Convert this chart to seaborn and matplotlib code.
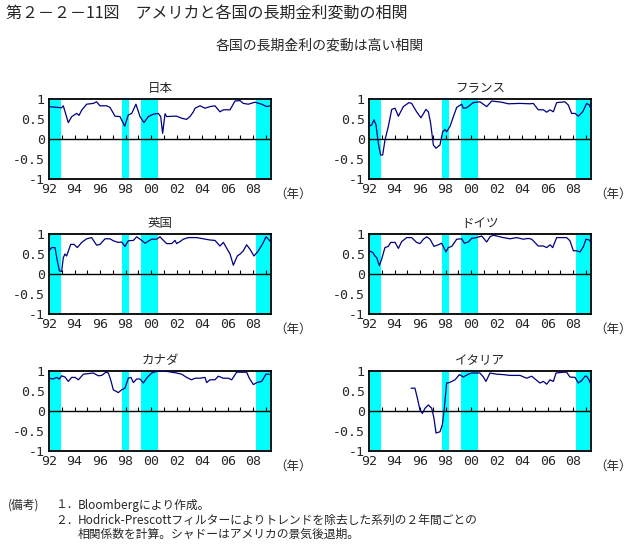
import numpy as np
import pandas as pd
import seaborn as sns
import matplotlib.pyplot as plt

# correlation with US long-term rates (year, value)
jp_t = [1992.0, 1992.99, 1993.12, 1993.51, 1993.78, 1994.17, 1994.35, 1994.56, 1994.95, 1995.47,
        1995.73, 1995.99, 1996.52, 1996.78, 1997.17, 1997.56, 1997.93, 1998.21, 1998.48, 1998.81,
        1999.13, 1999.44, 1999.78, 2000.17, 2000.56, 2000.75, 2000.90, 2001.09, 2001.22, 2001.74,
        2002.0, 2002.39, 2002.78, 2003.04, 2003.31, 2003.44, 2003.83, 2004.22, 2004.61, 2005.0,
        2005.39, 2005.66, 2006.18, 2006.57, 2006.96, 2007.22, 2007.61, 2008.14, 2008.66, 2009.05,
        2009.31]
jp_v = [0.81, 0.78, 0.83, 0.41, 0.56, 0.64, 0.59, 0.72, 0.87, 0.89,
        0.93, 0.83, 0.83, 0.79, 0.57, 0.56, 0.32, 0.60, 0.64, 0.87,
        0.56, 0.41, 0.56, 0.62, 0.64, 0.56, 0.14, 0.63, 0.56, 0.57,
        0.57, 0.52, 0.49, 0.56, 0.68, 0.77, 0.83, 0.77, 0.81, 0.83,
        0.68, 0.73, 0.73, 0.95, 0.96, 0.89, 0.87, 0.92, 0.87, 0.81,
        0.83]

fr_t = [1992.0, 1992.21, 1992.39, 1992.55, 1992.73, 1992.91, 1993.07, 1993.25, 1993.51, 1993.78,
        1994.04, 1994.30, 1994.69, 1995.13, 1995.34, 1995.73, 1996.07, 1996.46, 1996.65, 1996.83,
        1997.04, 1997.25, 1997.56, 1997.77, 1997.95, 1998.08, 1998.34, 1998.61, 1998.87, 1999.26,
        1999.39, 1999.65, 2000.17, 2000.69, 2001.22, 2001.61, 2002.39, 2002.91, 2003.83, 2004.61,
        2004.87, 2005.26, 2005.66, 2005.92, 2006.18, 2006.44, 2006.70, 2007.35, 2007.61, 2007.87,
        2008.14, 2008.40, 2008.74, 2009.05, 2009.26, 2009.39]
fr_v = [0.32, 0.35, 0.48, 0.35, -0.11, -0.40, -0.40, -0.03, 0.31, 0.74,
        0.77, 0.57, 0.81, 0.91, 0.89, 0.68, 0.53, 0.74, 0.68, 0.39,
        -0.15, -0.23, -0.15, 0.18, 0.24, 0.18, 0.31, 0.56, 0.79, 0.87,
        0.77, 0.78, 0.91, 0.93, 0.81, 0.95, 0.92, 0.88, 0.89, 0.88,
        0.89, 0.73, 0.73, 0.67, 0.73, 0.68, 0.91, 0.93, 0.85, 0.64,
        0.64, 0.57, 0.68, 0.89, 0.85, 0.75]

uk_t = [1992.0, 1992.21, 1992.47, 1992.65, 1992.81, 1992.99, 1993.12, 1993.25, 1993.38, 1993.70,
        1993.96, 1994.22, 1994.56, 1994.95, 1995.34, 1995.73, 1995.99, 1996.39, 1996.78, 1997.04,
        1997.43, 1997.69, 1997.95, 1998.21, 1998.61, 1998.87, 1999.26, 1999.52, 2000.04, 2000.43,
        2000.69, 2000.96, 2001.22, 2001.61, 2001.87, 2002.0, 2002.26, 2002.52, 2002.91, 2003.57,
        2004.09, 2004.61, 2005.0, 2005.39, 2005.66, 2006.18, 2006.44, 2006.75, 2007.01, 2007.22,
        2007.48, 2007.74, 2008.06, 2008.40, 2008.74, 2009.00, 2009.36]
uk_v = [0.58, 0.66, 0.66, 0.33, 0.08, 0.06, 0.41, 0.50, 0.45, 0.74,
        0.74, 0.66, 0.79, 0.88, 0.91, 0.72, 0.74, 0.88, 0.88, 0.83,
        0.79, 0.80, 0.69, 0.83, 0.84, 0.93, 0.84, 0.77, 0.87, 0.87,
        0.93, 0.84, 0.76, 0.76, 0.84, 0.76, 0.81, 0.87, 0.91, 0.91,
        0.88, 0.85, 0.84, 0.70, 0.79, 0.50, 0.22, 0.45, 0.51, 0.58,
        0.73, 0.62, 0.45, 0.58, 0.76, 0.93, 0.81]

de_t = [1992.0, 1992.29, 1992.47, 1992.60, 1992.81, 1992.99, 1993.25, 1993.51, 1993.70, 1994.04,
        1994.30, 1994.56, 1994.95, 1995.34, 1995.73, 1995.99, 1996.26, 1996.52, 1996.78, 1997.09,
        1997.43, 1997.69, 1998.03, 1998.21, 1998.48, 1998.87, 1999.26, 1999.47, 1999.78, 2000.04,
        2000.43, 2000.83, 2001.22, 2001.48, 2001.74, 2002.52, 2003.04, 2003.57, 2004.09, 2004.48,
        2004.74, 2005.26, 2005.66, 2005.92, 2006.18, 2006.39, 2006.70, 2007.48, 2007.74, 2008.01,
        2008.27, 2008.53, 2008.79, 2009.0, 2009.26, 2009.39]
de_v = [0.58, 0.54, 0.45, 0.41, 0.21, 0.37, 0.66, 0.69, 0.79, 0.79,
        0.64, 0.81, 0.91, 0.91, 0.79, 0.76, 0.87, 0.93, 0.87, 0.69,
        0.73, 0.77, 0.55, 0.66, 0.69, 0.87, 0.88, 0.77, 0.80, 0.89,
        0.91, 0.95, 0.80, 0.93, 0.97, 0.91, 0.88, 0.91, 0.87, 0.89,
        0.87, 0.70, 0.70, 0.66, 0.73, 0.66, 0.91, 0.91, 0.83, 0.58,
        0.58, 0.55, 0.68, 0.87, 0.85, 0.79]

ca_t = [1992.0, 1992.34, 1992.60, 1992.81, 1992.99, 1993.25, 1993.51, 1993.78, 1994.04, 1994.30,
        1994.69, 1995.47, 1995.86, 1996.13, 1996.46, 1996.65, 1996.83, 1997.04, 1997.43, 1997.69,
        1997.95, 1998.21, 1998.42, 1998.61, 1998.87, 1999.13, 1999.39, 1999.65, 2000.04, 2000.43,
        2001.22, 2002.0, 2002.39, 2002.78, 2003.17, 2003.44, 2003.83, 2004.22, 2004.35, 2004.61,
        2005.0, 2005.26, 2005.66, 2006.05, 2006.31, 2006.70, 2007.48, 2007.69, 2008.01, 2008.27,
        2008.66, 2009.0, 2009.26]
ca_v = [0.82, 0.80, 0.84, 0.80, 0.88, 0.85, 0.74, 0.84, 0.84, 0.78,
        0.92, 0.95, 0.88, 0.89, 0.97, 0.95, 0.78, 0.53, 0.46, 0.53,
        0.57, 0.82, 0.84, 0.71, 0.80, 0.80, 0.70, 0.82, 0.95, 0.99,
        0.99, 0.95, 0.92, 0.84, 0.78, 0.82, 0.82, 0.84, 0.71, 0.78,
        0.78, 0.87, 0.82, 0.82, 0.78, 0.97, 0.97, 0.82, 0.66, 0.71,
        0.74, 0.92, 0.92]

it_t = [1995.29, 1995.60, 1995.79, 1995.99, 1996.18, 1996.39, 1996.65, 1996.91, 1997.09, 1997.25,
        1997.56, 1997.74, 1997.90, 1998.08, 1998.29, 1998.48, 1998.74, 1999.08, 1999.39, 1999.78,
        2000.04, 2000.69, 2000.96, 2001.16, 2001.48, 2002.0, 2002.52, 2003.04, 2003.83, 2004.35,
        2004.74, 2005.39, 2005.66, 2005.92, 2006.18, 2006.44, 2006.65, 2007.22, 2007.48, 2007.74,
        2008.14, 2008.40, 2008.66, 2008.92, 2009.05, 2009.26, 2009.39]
it_v = [0.57, 0.57, 0.32, 0.03, -0.06, 0.07, 0.15, 0.07, -0.18, -0.55,
        -0.52, -0.35, 0.07, 0.70, 0.71, 0.74, 0.78, 0.91, 0.85, 0.92,
        0.95, 0.95, 0.85, 0.74, 0.95, 0.92, 0.91, 0.89, 0.89, 0.82,
        0.87, 0.70, 0.74, 0.67, 0.78, 0.74, 0.95, 0.97, 0.97, 0.85,
        0.84, 0.70, 0.76, 0.87, 0.87, 0.76, 0.66]

countries = ['日本', 'フランス', '英国', 'ドイツ', 'カナダ', 'イタリア']
series = [(jp_t, jp_v), (fr_t, fr_v), (uk_t, uk_v), (de_t, de_v), (ca_t, ca_v), (it_t, it_v)]

# US recession shading (after the 2-year window)
recessions = [(1992.0, 1992.94), (1997.72, 1998.27), (1999.21, 2000.51), (2008.21, 2009.39)]
year_ticks = [1992, 1994, 1996, 1998, 2000, 2002, 2004, 2006, 2008]
year_labels = ['92', '94', '96', '98', '00', '02', '04', '06', '08']
y_ticks = [1, 0.5, 0, -0.5, -1]
y_labels = ['1', '0.5', '0', '-0.5', '-1']

sns.set_style('white')
plt.rcParams['font.family'] = ['Noto Sans CJK JP', 'DejaVu Sans']

W, H = 633, 547
fig = plt.figure(figsize=(W / 100, H / 100), dpi=100)

lefts = [49, 369]
tops = [99, 234, 371]
for i, (name, (t, v)) in enumerate(zip(countries, series)):
    r, c = divmod(i, 2)
    ax = fig.add_axes([lefts[c] / W, 1 - (tops[r] + 80) / H, 222 / W, 80 / H])
    for a, b in recessions:
        ax.axvspan(a, b, color='#00ffff', lw=0, zorder=0)
    df = pd.DataFrame({'year': t, 'corr': v})
    sns.lineplot(data=df, x='year', y='corr', ax=ax, color='#000080', lw=0.9, zorder=3)
    ax.axhline(0, color='black', lw=1, zorder=2)
    ax.vlines(np.arange(1993, 2010), 0, 0.09, color='black', lw=0.8, zorder=2)
    ax.set_xlim(1992.0, 2009.39)
    ax.set_ylim(-1, 1)
    ax.set_xticks(year_ticks)
    ax.set_xticklabels(year_labels, family='DejaVu Sans Mono', fontsize=9.5)
    ax.set_yticks(y_ticks)
    ax.set_yticklabels(y_labels, family='DejaVu Sans Mono', fontsize=9.5)
    ax.tick_params(length=0, pad=3)
    ax.set_xlabel('')
    ax.set_ylabel('')
    for s in ax.spines.values():
        s.set_visible(True)
        s.set_color('black')
        s.set_linewidth(1.3)
    ax.set_title(name, fontsize=9, pad=5)
    ax.text(1.10, -0.19, '（年）', transform=ax.transAxes, fontsize=9, ha='center', va='center')

fig.text(6 / W, 1 - 14 / H, '第２－２－11図　アメリカと各国の長期金利変動の相関', fontsize=11.5, va='center')
fig.text(320 / W, 1 - 46 / H, '各国の長期金利の変動は高い相関', fontsize=10, ha='center', va='center')

fig.text(8 / W, 1 - 505 / H, '(備考)', fontsize=8.5, va='center')
fig.text(55 / W, 1 - 505 / H, '１．', fontsize=8.5, va='center')
fig.text(78 / W, 1 - 505 / H, 'Bloombergにより作成。', fontsize=8.5, va='center')
fig.text(55 / W, 1 - 520 / H, '２．', fontsize=8.5, va='center')
fig.text(78 / W, 1 - 520 / H, 'Hodrick-Prescottフィルターによりトレンドを除去した系列の２年間ごとの',
         fontsize=8.5, va='center')
fig.text(78 / W, 1 - 534 / H, '相関係数を計算。シャドーはアメリカの景気後退期。', fontsize=8.5, va='center')

fig.savefig('out.png', dpi=100)
